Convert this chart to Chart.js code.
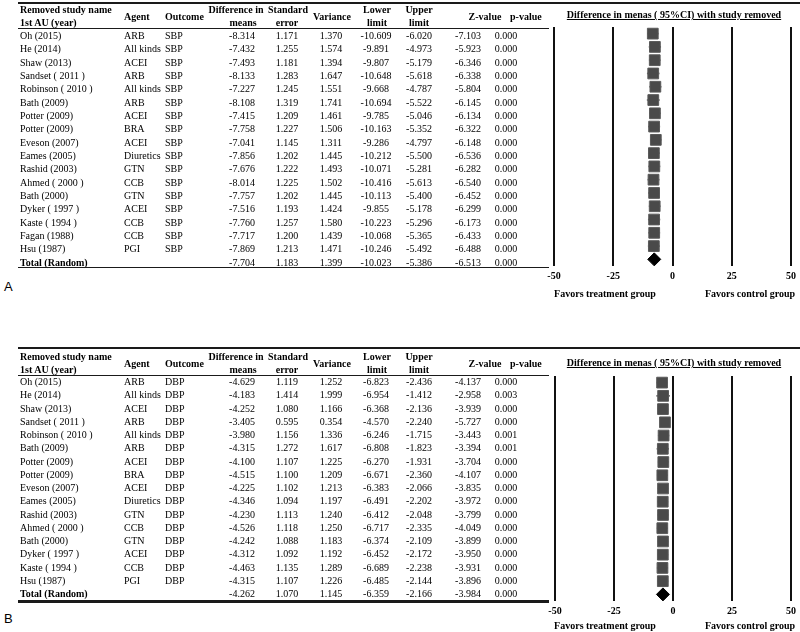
<!DOCTYPE html>
<html><head><meta charset="utf-8">
<script src="https://cdn.jsdelivr.net/npm/chart.js@4.4.0/dist/chart.umd.min.js"></script>
<style>
html,body{margin:0;padding:0;background:#fff;}
body{width:800px;height:632px;overflow:hidden;position:relative;font-family:"Liberation Serif","Times New Roman",serif;}
.t{position:absolute;white-space:nowrap;font-size:10px;line-height:12px;height:12px;color:#000;}
.b{font-weight:bold;}
.hl{position:absolute;background:#1a1a1a;}
canvas{position:absolute;}
.pl{position:absolute;font-family:"Liberation Sans",Arial,sans-serif;font-size:13px;line-height:14px;color:#000;}
</style></head><body>
<canvas id="cA" width="260" height="290" style="left:540px;top:0px;width:260px;height:290px"></canvas>
<canvas id="cB" width="260" height="285" style="left:540px;top:340px;width:260px;height:285px"></canvas>
<script>
// ---------- Panel A (SBP) ----------
const studiesA = ["Oh (2015)","He (2014)","Shaw (2013)","Sandset ( 2011 )","Robinson ( 2010 )","Bath (2009)","Potter (2009)","Potter (2009)","Eveson (2007)","Eames (2005)","Rashid (2003)","Ahmed ( 2000 )","Bath (2000)","Dyker ( 1997 )","Kaste ( 1994 )","Fagan (1988)","Hsu (1987)","Total (Random)"];
const agentsA = ["ARB","All kinds","ACEI","ARB","All kinds","ARB","ACEI","BRA","ACEI","Diuretics","GTN","CCB","GTN","ACEI","CCB","CCB","PGI",""];
const outcomeA = "SBP";
const diffA = [-8.314,-7.432,-7.493,-8.133,-7.227,-8.108,-7.415,-7.758,-7.041,-7.856,-7.676,-8.014,-7.757,-7.516,-7.760,-7.717,-7.869,-7.704];
const seA = [1.171,1.255,1.181,1.283,1.245,1.319,1.209,1.227,1.145,1.202,1.222,1.225,1.202,1.193,1.257,1.200,1.213,1.183];
const varA = [1.370,1.574,1.394,1.647,1.551,1.741,1.461,1.506,1.311,1.445,1.493,1.502,1.445,1.424,1.580,1.439,1.471,1.399];
const lowerA = [-10.609,-9.891,-9.807,-10.648,-9.668,-10.694,-9.785,-10.163,-9.286,-10.212,-10.071,-10.416,-10.113,-9.855,-10.223,-10.068,-10.246,-10.023];
const upperA = [-6.020,-4.973,-5.179,-5.618,-4.787,-5.522,-5.046,-5.352,-4.797,-5.500,-5.281,-5.613,-5.400,-5.178,-5.296,-5.365,-5.492,-5.386];
const zA = [-7.103,-5.923,-6.346,-6.338,-5.804,-6.145,-6.134,-6.322,-6.148,-6.536,-6.282,-6.540,-6.452,-6.299,-6.173,-6.433,-6.488,-6.513];
const pA = [0,0,0,0,0,0,0,0,0,0,0,0,0,0,0,0,0,0];

// ---------- Panel B (DBP) ----------
const studiesB = ["Oh (2015)","He (2014)","Shaw (2013)","Sandset ( 2011 )","Robinson ( 2010 )","Bath (2009)","Potter (2009)","Potter (2009)","Eveson (2007)","Eames (2005)","Rashid (2003)","Ahmed ( 2000 )","Bath (2000)","Dyker ( 1997 )","Kaste ( 1994 )","Hsu (1987)","Total (Random)"];
const agentsB = ["ARB","All kinds","ACEI","ARB","All kinds","ARB","ACEI","BRA","ACEI","Diuretics","GTN","CCB","GTN","ACEI","CCB","PGI",""];
const outcomeB = "DBP";
const diffB = [-4.629,-4.183,-4.252,-3.405,-3.980,-4.315,-4.100,-4.515,-4.225,-4.346,-4.230,-4.526,-4.242,-4.312,-4.463,-4.315,-4.262];
const seB = [1.119,1.414,1.080,0.595,1.156,1.272,1.107,1.100,1.102,1.094,1.113,1.118,1.088,1.092,1.135,1.107,1.070];
const varB = [1.252,1.999,1.166,0.354,1.336,1.617,1.225,1.209,1.213,1.197,1.240,1.250,1.183,1.192,1.289,1.226,1.145];
const lowerB = [-6.823,-6.954,-6.368,-4.570,-6.246,-6.808,-6.270,-6.671,-6.383,-6.491,-6.412,-6.717,-6.374,-6.452,-6.689,-6.485,-6.359];
const upperB = [-2.436,-1.412,-2.136,-2.240,-1.715,-1.823,-1.931,-2.360,-2.066,-2.202,-2.048,-2.335,-2.109,-2.172,-2.238,-2.144,-2.166];
const zB = [-4.137,-2.958,-3.939,-5.727,-3.443,-3.394,-3.704,-4.107,-3.835,-3.972,-3.799,-4.049,-3.899,-3.950,-3.931,-3.896,-3.984];
const pB = [0.000,0.003,0.000,0.000,0.001,0.001,0.000,0.000,0.000,0.000,0.000,0.000,0.000,0.000,0.000,0.000,0.000];

const xTicks = [-50,-25,0,25,50];
const plotTitle = "Difference in menas ( 95%CI) with study removed";
const favorLeft = "Favors treatment group";
const favorRight = "Favors control group";

// ---------- text helpers ----------
function txt(s, x, y, align, cls, extra){
  const d = document.createElement('div');
  d.className = 't' + (cls ? ' ' + cls : '');
  d.textContent = s;
  d.style.top = (y - 6) + 'px';
  if (align === 'c'){ d.style.left = x + 'px'; d.style.transform = 'translateX(-50%)'; }
  else if (align === 'r'){ d.style.right = (800 - x) + 'px'; }
  else { d.style.left = x + 'px'; }
  if (extra) Object.assign(d.style, extra);
  document.body.appendChild(d);
  return d;
}
function hline(x1, x2, y, h){
  const d = document.createElement('div');
  d.className = 'hl';
  d.style.left = x1 + 'px'; d.style.width = (x2 - x1) + 'px';
  d.style.top = y + 'px'; d.style.height = h + 'px';
  document.body.appendChild(d);
}

const COL = {name:20, agent:124, outcome:165, diff:242, se:287, vr:331, lo:376, up:419, z:468, p:506};

function drawTable(top, studies, agents, outcome, diff, se, vr, lo, up, z, p, rowY0, rowStep){
  const h1 = top + 7, h2 = top + 20, hm = top + 13.5;
  txt("Removed study name", COL.name, h1, 'l', 'b');
  txt("1st AU (year)", COL.name, h2, 'l', 'b');
  txt("Agent", 124, hm, 'l', 'b');
  txt("Outcome", 165, hm, 'l', 'b');
  txt("Difference in", 236, h1, 'c', 'b');
  txt("means", 243, h2, 'c', 'b');
  txt("Standard", 288, h1, 'c', 'b');
  txt("error", 287, h2, 'c', 'b');
  txt("Variance", 332, hm, 'c', 'b');
  txt("Lower", 377, h1, 'c', 'b');
  txt("limit", 377, h2, 'c', 'b');
  txt("Upper", 419, h1, 'c', 'b');
  txt("limit", 419, h2, 'c', 'b');
  txt("Z-value", 485, hm, 'c', 'b');
  txt("p-value", 510, hm, 'l', 'b');
  const n = studies.length;
  for (let i = 0; i < n; i++){
    const y = rowY0 + i * rowStep;
    const isTot = i === n - 1;
    txt(studies[i], COL.name, y, 'l', isTot ? 'b' : '');
    if (!isTot){
      txt(agents[i], COL.agent, y, 'l');
      txt(outcome, COL.outcome, y, 'l');
    }
    txt(diff[i].toFixed(3), COL.diff, y, 'c');
    txt(se[i].toFixed(3), COL.se, y, 'c');
    txt(vr[i].toFixed(3), COL.vr, y, 'c');
    txt(lo[i].toFixed(3), COL.lo, y, 'c');
    txt(up[i].toFixed(3), COL.up, y, 'c');
    txt(z[i].toFixed(3), COL.z, y, 'c');
    txt(p[i].toFixed(3), COL.p, y, 'c');
  }
}

// Panel A
hline(18, 800, 2, 2);
hline(18, 549, 28, 1);
drawTable(3, studiesA, agentsA, outcomeA, diffA, seA, varA, lowerA, upperA, zA, pA, 36, 13.33);
hline(18, 549, 267, 1);
txt(plotTitle, 674, 15, 'c', 'b', {textDecoration:'underline'});
txt(favorLeft, 605, 294, 'c', 'b');
txt(favorRight, 750, 294, 'c', 'b');
(function(){ const d=document.createElement('div'); d.className='pl'; d.textContent='A'; d.style.left='4px'; d.style.top='280px'; document.body.appendChild(d); })();

// Panel B
hline(18, 800, 347, 2);
hline(18, 549, 375, 1);
drawTable(350, studiesB, agentsB, outcomeB, diffB, seB, varB, lowerB, upperB, zB, pB, 382, 13.25);
hline(18, 549, 600, 3);
txt(plotTitle, 674, 363, 'c', 'b', {textDecoration:'underline'});
txt(favorLeft, 605, 626, 'c', 'b');
txt(favorRight, 750, 626, 'c', 'b');
(function(){ const d=document.createElement('div'); d.className='pl'; d.textContent='B'; d.style.left='4px'; d.style.top='612px'; document.body.appendChild(d); })();

// ---------- forest plots ----------
function forest(id, labels, mean, lo, hi, pad){
  const n = labels.length;
  const styles = labels.map((_, i) => i === n - 1 ? 'rectRot' : 'rect');
  const radii = labels.map((_, i) => i === n - 1 ? 6.5 : 7.6);
  const fills = labels.map((_, i) => i === n - 1 ? '#000000' : '#4a4a4a');
  const borders = labels.map((_, i) => i === n - 1 ? '#000000' : '#5a5a5a');
  return new Chart(document.getElementById(id), {
    type: 'bar',
    data: {
      labels: labels.map((l, i) => i + ':' + l),
      datasets: [
        { type: 'bar', data: lo.map((v, i) => [v, hi[i]]), backgroundColor: '#777777', borderWidth: 0, barThickness: 1, order: 2 },
        { type: 'line', indexAxis: 'y', data: mean, showLine: false, pointStyle: styles, pointRadius: radii,
          pointBackgroundColor: fills, pointBorderColor: borders, pointBorderWidth: 1, order: 1 }
      ]
    },
    options: {
      indexAxis: 'y',
      responsive: false,
      animation: false,
      devicePixelRatio: 1,
      events: [],
      layout: { padding: pad },
      plugins: { legend: { display: false }, tooltip: { enabled: false } },
      scales: {
        y: { type: 'category', display: false, offset: true },
        x: {
          type: 'linear', min: -50, max: 50,
          afterBuildTicks: s => { s.ticks = xTicks.map(v => ({ value: v })); },
          afterFit: s => { s.height = 24; },
          border: { display: false },
          grid: { color: '#111111', lineWidth: 2, drawTicks: false },
          ticks: { color: '#000', padding: 4, maxRotation: 0, autoSkip: false,
                   font: { family: 'Liberation Serif', weight: 'bold', size: 10 } }
        }
      }
    }
  });
}
forest('cA', studiesA, diffA, lowerA, upperA, { left: 14, right: 9, top: 27, bottom: 0 });
forest('cB', studiesB, diffB, lowerB, upperB, { left: 15, right: 8, top: 36, bottom: 0 });
</script>
</body></html>
